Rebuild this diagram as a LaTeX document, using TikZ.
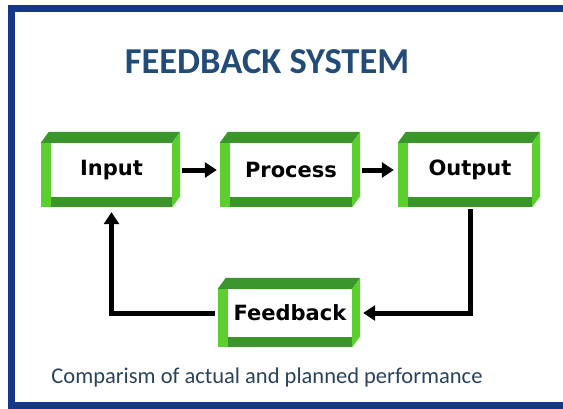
\documentclass[tikz,border=0pt]{standalone}
\usepackage{fontspec}
\usepackage{tikz}
\usetikzlibrary{arrows.meta}
\newfontfamily\boxfont{DejaVu Sans}
\newfontfamily\calfont{Carlito}
\definecolor{frameblue}{HTML}{16368A}
\definecolor{titleblue}{HTML}{234B78}
\definecolor{notegray}{HTML}{2A435C}
\definecolor{lightgreen}{HTML}{5ACF2E}
\definecolor{darkgreen}{HTML}{3A962A}

\begin{document}
\begin{tikzpicture}[x=1pt,y=1pt,
				block/.style={rectangle,fill=white,inner sep=0pt,minimum height=54pt,font=\boxfont\bfseries\fontsize{21}{24}\selectfont},
				link/.style={line width=5pt,-{Triangle[length=12pt,width=15pt]}}]
	\useasboundingbox (0,0) rectangle (563,408);
	\clip (0,0) rectangle (563,408);
	\fill[white] (0,0) rectangle (563,408);
	\draw[frameblue,line width=7pt] (11.5,2.5) rectangle (575,399.5);
	\node[font=\calfont\bfseries\fontsize{36.5}{40}\selectfont,text=titleblue] (T) at (267,346) {FEEDBACK SYSTEM};
	\node[block,minimum width=121pt] (In) at (111.5,238) {Input};
	\node[block,minimum width=122pt] (Pr) at (291,238) {Process};
	\node[block,minimum width=124pt] (Out) at (470,238) {Output};
	\node[block,minimum width=124pt,minimum height=48pt] (Fb) at (290,95) {Feedback};
	\node[font=\calfont\fontsize{22.5}{26}\selectfont,text=notegray] (C) at (267,31) {Comparism of actual and planned performance};
	\foreach \b in {In,Pr,Out,Fb}{
		\fill[lightgreen] ([xshift=-10pt]\b.north west) rectangle ([yshift=-10pt]\b.south west);
		\fill[darkgreen] ([yshift=-10pt]\b.south west) rectangle (\b.south east);
		\fill[darkgreen] ([xshift=-10pt]\b.north west) -- ([shift={(-2pt,11pt)}]\b.north west) -- ([shift={(8pt,11pt)}]\b.north east) -- (\b.north east) -- cycle;
		\fill[lightgreen] (\b.north east) -- ([shift={(8pt,11pt)}]\b.north east) -- ([shift={(8pt,1pt)}]\b.south east) -- ([yshift=-10pt]\b.south east) -- cycle;
	}
	\draw[link,shorten <=10pt,shorten >=13pt] (In) -- (Pr);
	\draw[link,shorten <=10pt,shorten >=14pt] (Pr) -- (Out);
	\draw[link,shorten <=12pt,shorten >=11pt] (Out.south) |- (Fb.east);
	\draw[link,shorten <=13pt,shorten >=15pt] (Fb.west) -| (In.south);
\end{tikzpicture}
\end{document}
